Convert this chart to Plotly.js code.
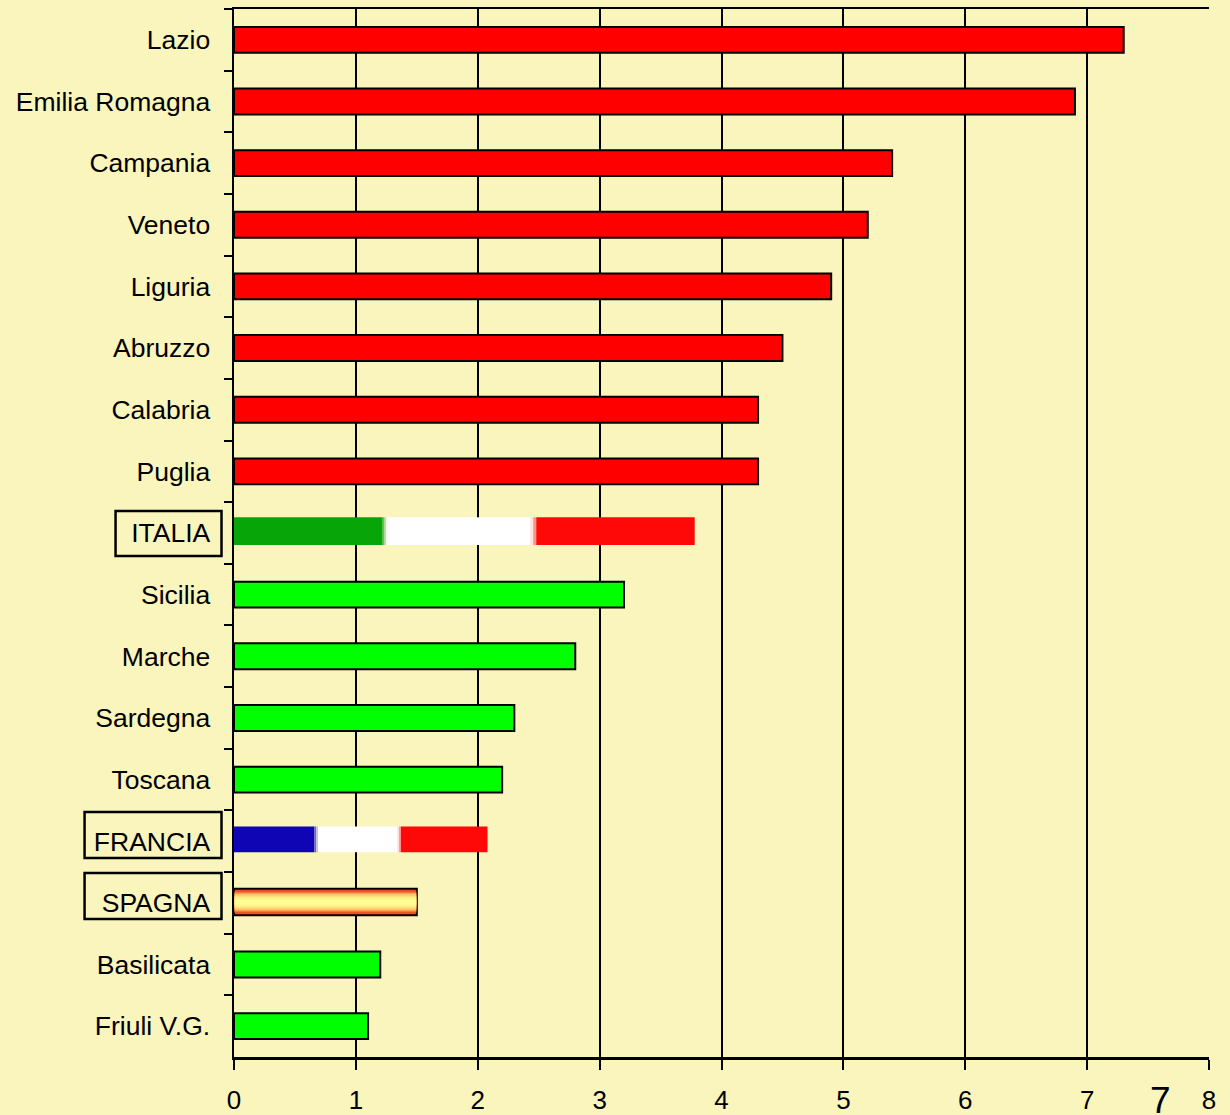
<!DOCTYPE html>
<html><head><meta charset="utf-8">
<script src="https://cdn.plot.ly/plotly-3.0.1.min.js"></script>
<style>html,body{margin:0;padding:0;background:#f9f5bd;overflow:hidden}</style>
</head><body><div id="chart" style="width:1230px;height:1115px"></div>
<script>
const categories = ["Lazio","Emilia Romagna","Campania","Veneto","Liguria","Abruzzo","Calabria","Puglia","ITALIA","Sicilia","Marche","Sardegna","Toscana","FRANCIA","SPAGNA","Basilicata","Friuli V.G."];
const redNames = ["Lazio","Emilia Romagna","Campania","Veneto","Liguria","Abruzzo","Calabria","Puglia"];
const redValues = [7.3,6.9,5.4,5.2,4.9,4.5,4.3,4.3];
const greenNames = ["Sicilia","Marche","Sardegna","Toscana","Basilicata","Friuli V.G."];
const greenValues = [3.2,2.8,2.3,2.2,1.2,1.1];
const italiaTotal = 3.78, franciaTotal = 2.08, spagnaTotal = 1.5;
const italiaBands = [["#08a508",0,1.22],["#5cc05c",1.22,1.235],["#b4dcb4",1.235,1.25],["#ffffff",1.25,2.43],["#ffe4e4",2.43,2.455],["#ff9090",2.455,2.48],["#ff0808",2.48,italiaTotal]];
const franciaBands = [["#0f05b4",0,0.66],["#6a66cc",0.66,0.675],["#c0c0e8",0.675,0.69],["#ffffff",0.69,1.34],["#ffe0e0",1.34,1.355],["#ff9090",1.355,1.37],["#ff0808",1.37,franciaTotal]];
const spagnaLayers = [["#f0502a",0.36],["#ffa04a",0.31],["#ffd070",0.25],["#fff08a",0.18],["#ffff96",0.09]];
const xTicks = [0,1,2,3,4,5,6,7,8];
const axisFont = {family:"Liberation Sans, Arial, sans-serif",size:26.5,color:"#000"};
const barW = 0.42;
const lift = 0.03;
const M = {l:233.5,r:21,t:9,b:58};
const W = 1230, H = 1115;

const traces = [
 {type:"bar",orientation:"h",y:redNames,x:redValues,width:barW,marker:{color:"#ff0000",line:{color:"#000",width:2}}},
 {type:"bar",orientation:"h",y:greenNames,x:greenValues,width:barW,marker:{color:"#00ff00",line:{color:"#000",width:2}}}
];
italiaBands.forEach(b=>traces.push({type:"bar",orientation:"h",y:["ITALIA"],base:[b[1]],x:[b[2]-b[1]],width:0.45,offset:-0.225-lift,marker:{color:b[0],line:{width:0}}}));
franciaBands.forEach(b=>traces.push({type:"bar",orientation:"h",y:["FRANCIA"],base:[b[1]],x:[b[2]-b[1]],width:0.42,offset:-0.21-lift,marker:{color:b[0],line:{width:0}}}));
traces.push({type:"bar",orientation:"h",y:["SPAGNA"],x:[spagnaTotal],width:0.43,offset:-0.215-0.015,marker:{color:"#f0502a",line:{color:"#000",width:2}}});
spagnaLayers.forEach(l=>traces.push({type:"bar",orientation:"h",y:["SPAGNA"],x:[spagnaTotal-0.008],base:[0.004],width:l[1],offset:-l[1]/2-0.015,marker:{color:l[0],line:{width:0}}}));

const pw = W-M.l-M.r, ph = H-M.t-M.b;
function box(x0,x1,y0,y1){return {type:"rect",xref:"paper",yref:"paper",
  x0:(x0-M.l)/pw,x1:(x1-M.l)/pw,y0:(H-M.b-y1)/ph,y1:(H-M.b-y0)/ph,
  line:{color:"#000",width:2.5},fillcolor:"rgba(0,0,0,0)",layer:"above"};}

const layout = {
 width:W,height:H,
 margin:{l:M.l,r:M.r,t:M.t,b:M.b,pad:0},
 paper_bgcolor:"#f9f5bd",plot_bgcolor:"#f9f5bd",
 barmode:"overlay",showlegend:false,hovermode:false,
 xaxis:{range:[0,8],tickvals:xTicks,ticktext:xTicks.map(String),ticks:"outside",ticklen:10,tickwidth:2,tickcolor:"#000",
   showgrid:true,gridcolor:"#000",gridwidth:2,zeroline:false,showline:true,linecolor:"#000",linewidth:2.5,mirror:true,
   tickfont:{family:axisFont.family,size:26,color:"#000"},ticklabelstandoff:8,automargin:false},
 yaxis:{type:"category",categoryorder:"array",categoryarray:categories,autorange:false,range:[16.5,-0.5],
   tickson:"boundaries",ticks:"outside",ticklen:8,tickwidth:2,tickcolor:"#000",showgrid:false,zeroline:false,
   showline:true,linecolor:"#000",linewidth:2.5,tickfont:axisFont,ticklabelstandoff:16,automargin:false},
 shapes:[box(115,221,511,556),box(84,221,812,858),box(84,221,873,919)],
 annotations:[{xref:"paper",yref:"paper",x:(1160-M.l)/pw,y:(H-M.b-1100)/ph,text:"7",showarrow:false,
   font:{family:axisFont.family,size:37,color:"#000"},xanchor:"center",yanchor:"middle"}]
};
Plotly.newPlot("chart",traces,layout,{staticPlot:true,displayModeBar:false});
</script></body></html>
